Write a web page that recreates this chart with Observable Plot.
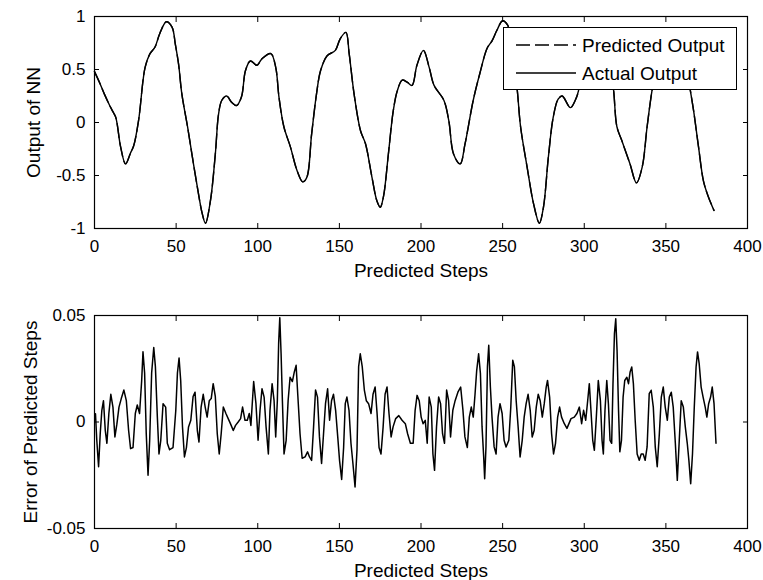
<!DOCTYPE html>
<html><head><meta charset="utf-8">
<script src="https://cdn.jsdelivr.net/npm/d3@7"></script>
<script src="https://cdn.jsdelivr.net/npm/@observablehq/plot@0.6"></script>
<style>
body{margin:0;background:#fff;}
#wrap{position:relative;width:763px;height:580px;background:#fff;font-family:"Liberation Sans",Arial,sans-serif;}
#top,#bottom{position:absolute;left:0;}
#top{top:0;}
#bottom{top:270px;}
#legend{position:absolute;left:503px;top:27px;width:234px;height:63px;background:#fff;border:1px solid #000;box-sizing:border-box;}
#legend svg{display:block;font-family:"Liberation Sans",Arial,sans-serif;}
</style>
</head><body>
<div id="wrap"><div id="top"></div><div id="bottom"></div><div id="legend"></div></div>
<script>
// ---- data ----
const steps = [0,3,6,9,11,13,16,19,22,24,27,31,34,37,40,44,47.5,49.5,51.5,53.5,57,60,63,66,68,71,74,76,78,81,84,87,90,92.5,95.5,99.5,102.5,108,111,113,116,120,124,127.5,130,133,136,138.5,142.5,147.5,150.5,154,156,159,163,166,170,173,175,177,180,183,185.5,188.5,191.5,194.5,197.5,201.5,205,208,214,217,220,224,227,232,236,240.5,243.5,246.5,250,253,255,257,259,261,265,269,272.5,275,278,281,284,286.5,291.5,294.5,296.5,298,301,305,308,313,316,318,320,323,328,332,335.5,338.5,341.5,344,347,352,355,358,361,365,367,370,373,376,379.5];
const output = [0.48,0.38,0.27,0.17,0.11,0.05,-0.23,-0.39,-0.29,-0.22,0.02,0.52,0.65,0.71,0.84,0.95,0.90,0.74,0.55,0.27,-0.04,-0.33,-0.61,-0.86,-0.95,-0.74,-0.30,0.08,0.21,0.25,0.19,0.16,0.24,0.49,0.58,0.54,0.60,0.65,0.52,0.24,-0.04,-0.23,-0.45,-0.56,-0.52,-0.11,0.27,0.49,0.63,0.68,0.79,0.85,0.65,0.27,-0.08,-0.20,-0.52,-0.74,-0.80,-0.70,-0.30,0.11,0.30,0.40,0.38,0.35,0.54,0.68,0.52,0.35,0.21,0.02,-0.30,-0.39,-0.20,0.21,0.46,0.70,0.77,0.87,0.96,0.92,0.80,0.55,0.30,-0.04,-0.42,-0.77,-0.95,-0.80,-0.33,0.05,0.22,0.25,0.14,0.21,0.30,0.50,0.58,0.54,0.60,0.65,0.52,0.30,-0.04,-0.17,-0.39,-0.57,-0.42,-0.04,0.30,0.50,0.63,0.68,0.79,0.85,0.65,0.30,0.11,-0.23,-0.55,-0.70,-0.83];

const errSteps = [0.6,1.4,2.5,3.5,4.5,5.5,6.6,7.6,8.8,10,11.3,12.5,13.7,15,16.4,18,19.5,20.9,22.1,23.6,25,26.2,27.6,28.9,29.7,30.7,31.7,32.8,33.8,35,36.3,37.3,38.5,39.5,40.6,42,43.6,44.6,46,48.1,49.8,50.8,51.8,52.8,53.9,55.1,56.3,57.6,59,60.4,61.6,63,64,65.3,66.6,67.8,69,70.3,71.5,72.7,74,75.2,76.4,77.6,78.9,80.5,81.9,83.4,85,86.4,88,89.5,90.7,92.2,93.6,94.8,95.8,97.5,98.9,100.2,101.4,102.6,103.9,105.1,106.5,107.5,108.8,110,111,112,112.8,113.5,114.3,115.1,116.1,117.4,118.6,119.8,121.2,122.4,123.5,124.5,125.9,127.2,129,130.5,131.7,133,134.2,135.4,136.6,137.8,139.1,140.3,141.5,142.8,144,145.2,146.4,147.7,149,150.1,151.4,152.6,153.6,154.6,155.9,157.1,158.3,159.6,160.8,161.8,162.8,164,165.3,166.5,167.9,169.4,170.6,171.9,173.1,174.3,175.5,176.8,178,179.2,180.4,181.7,182.9,184.5,186.4,188.4,190.4,191.8,193.5,195.2,196.4,197.6,198.9,200.1,201.3,202.6,203.8,205,206.3,207.3,208.3,209.5,210.8,212,213.2,214.4,215.7,216.9,218.1,219.5,220.9,222.6,224.3,225.7,226.9,228.4,229.6,230.8,232,233.1,234.1,235.3,236.4,237.4,238.4,239,239.8,240.7,241.5,242.5,243.5,244.8,246,247.2,248.4,249.7,250.9,252.1,253.8,255,256.2,257.2,258.3,259.5,260.7,262,263.2,264.4,265.6,266.9,268.1,269.3,270.6,271.8,273,274.3,275.5,276.7,277.5,278.8,280,281.2,282.4,283.7,284.9,286.1,287.8,289.4,291.9,293.9,295.5,297,298.4,299.6,300.9,302.1,303.1,304.1,305.2,306.2,307.4,308.6,309.9,310.9,311.7,312.7,313.8,314.8,315.8,316.8,317.6,318.5,319.3,320.1,321,321.8,322.8,323.8,324.8,326.1,327.1,328.1,329.1,330.1,331.2,332.4,333.7,334.9,336.1,337.3,338.5,339.8,341,342.3,343.5,344.7,346,347.2,348.4,349.6,350.9,352.1,353.3,354.5,355.8,357,358.2,359.4,360.7,361.9,363.1,364.1,365.2,366.3,367.4,368.5,369.4,370.4,371.6,372.8,374.1,375.1,376.2,377.4,378.4,379.5,380.7];
const errValues = [0.0039,-0.0086,-0.021,-0.0055,0.0055,0.010,-0.004,-0.010,0.004,0.013,0.007,-0.007,-0.001,0.007,0.011,0.015,0.010,-0.004,-0.0125,-0.012,0.004,0.008,0.004,0.0195,0.033,0.023,-0.0055,-0.025,-0.0086,0.023,0.035,0.026,0.0023,-0.015,-0.0086,0.0086,0.007,-0.010,-0.013,-0.012,0.0055,0.023,0.030,0.0195,-0.0023,-0.0164,-0.012,-0.0023,0.0008,0.012,0.014,-0.004,-0.0094,0.007,0.013,0.007,0.0023,0.010,0.011,0.018,0.012,-0.0055,-0.015,-0.0055,0.007,0.004,0.0016,-0.001,-0.004,-0.0016,0.000,0.0016,0.007,0.0008,0.0008,0.004,-0.0016,0.019,0.0086,-0.0086,0.0055,0.0156,0.0117,-0.0023,-0.015,0.0055,0.018,0.010,-0.007,0.010,0.037,0.049,0.032,0.010,-0.015,-0.0086,0.010,0.021,0.019,0.0235,0.0266,0.013,-0.0055,-0.017,-0.0164,-0.014,-0.0164,-0.018,-0.0023,0.015,0.0117,-0.007,-0.0195,-0.0055,0.0086,0.0156,0.0008,0.010,0.013,0.0055,-0.007,-0.018,-0.027,-0.012,0.0086,0.0117,0.0055,-0.010,-0.0195,-0.0305,-0.013,0.026,0.032,0.026,0.015,0.010,0.0086,0.004,0.013,0.0164,0.004,-0.012,-0.015,-0.0023,0.013,0.0164,0.004,-0.007,-0.0023,0.0016,0.003,0.0008,-0.0008,-0.0055,-0.010,-0.010,0.0055,0.0125,0.010,0.0023,-0.0008,0.0008,-0.010,0.0117,0.007,-0.015,-0.0227,-0.0023,0.0117,0.0086,-0.0055,-0.010,0.015,0.010,-0.007,0.0055,0.010,0.014,0.0164,0.0055,-0.007,-0.012,0.0023,0.007,0.0023,0.013,0.024,0.032,0.0227,-0.0023,-0.0164,-0.0266,-0.0117,0.026,0.036,0.0164,0.0023,-0.0117,-0.015,0.0023,0.0086,0.004,-0.0086,-0.0117,-0.0086,0.007,0.029,0.026,0.010,-0.0023,-0.0164,-0.0086,0.0023,0.0086,0.013,0.0055,-0.007,-0.004,0.007,0.013,0.010,0.0023,0.0086,0.0164,0.0195,0.0117,-0.0055,-0.015,-0.010,0.0023,0.007,0.0023,-0.0008,-0.003,0.0016,0.0023,0.004,0.007,-0.0008,0.0055,0.0008,0.010,0.018,0.0055,-0.0086,-0.0133,0.0023,0.0195,0.010,-0.0086,-0.015,0.0055,0.0195,0.0086,-0.0086,-0.010,0.018,0.0415,0.0485,0.0336,0.0055,-0.014,-0.0086,0.0117,0.0195,0.021,0.018,0.0235,0.0258,0.018,0.0008,-0.015,-0.018,-0.015,-0.015,-0.018,-0.0117,0.0133,0.0149,0.007,-0.0117,-0.021,-0.0055,0.0117,0.0164,0.007,0.0008,0.0117,0.014,0.007,-0.010,-0.0274,-0.0086,0.010,0.007,-0.0023,-0.010,-0.018,-0.029,-0.015,0.007,0.0258,0.0329,0.0274,0.0164,0.0117,0.007,0.0023,0.0086,0.0117,0.0164,0.0086,-0.010];

const xTicks = [0,50,100,150,200,250,300,350,400];
const outTicks = [-1,-0.5,0,0.5,1];
const errTicks = [-0.05,0,0.05];
const xLabel = "Predicted Steps";
const outLabel = "Output of NN";
const errLabel = "Error of Predicted Steps";
const seriesNames = ["Predicted Output","Actual Output"];
const seriesDash = ["14,5", null];

// ---- tables ----
const outData = steps.map((s,i)=>({step:s, value:output[i]}));
const errData = errSteps.map((s,i)=>({step:s, value:errValues[i]}));

const font = '"Liberation Sans", Arial, sans-serif';
function boxAxes(yTicks, yLabel, yLabelDx) {
  return [
    Plot.frame({stroke:"#000", strokeWidth:1.2}),
    Plot.axisX(xTicks,{anchor:"bottom", tickSize:5, dy:-5, tickFormat:()=>"", label:null}),
    Plot.axisX(xTicks,{anchor:"top", tickSize:5, dy:5, tickFormat:()=>"", label:null}),
    Plot.axisY(yTicks,{anchor:"left", tickSize:5, dx:5, tickFormat:()=>"", label:null}),
    Plot.axisY(yTicks,{anchor:"right", tickSize:5, dx:-5, tickFormat:()=>"", label:null}),
    Plot.axisX(xTicks,{anchor:"bottom", tickSize:0, tickPadding:11, tickFormat:d=>String(d), label:null, fontSize:17}),
    Plot.axisY(yTicks,{anchor:"left", tickSize:0, tickPadding:9, tickFormat:d=>String(d), label:null, fontSize:17}),
    Plot.text([xLabel],{text:d=>d, frameAnchor:"bottom", dy:42, fontSize:19, lineAnchor:"middle", textAnchor:"middle"}),
    Plot.text([yLabel],{text:d=>d, frameAnchor:"left", dx:yLabelDx, rotate:-90, fontSize:19, lineAnchor:"middle", textAnchor:"middle"})
  ];
}

const topChart = Plot.plot({
  width:763, height:290, marginLeft:94, marginRight:16, marginTop:16, marginBottom:62,
  style:{background:"transparent", fontFamily:font, fontSize:"17px", color:"#000", overflow:"visible"},
  x:{domain:[0,400]}, y:{domain:[-1,1]},
  marks:[
    Plot.line(outData,{x:"step", y:"value", stroke:"#000", strokeWidth:1.4, curve:"catmull-rom"}),
    Plot.line(outData,{x:"step", y:"value", stroke:"#000", strokeWidth:1.4, curve:"catmull-rom", strokeDasharray:seriesDash[0]}),
    ...boxAxes(outTicks, outLabel, -61)
  ]
});
document.getElementById("top").appendChild(topChart);

const bottomChart = Plot.plot({
  width:763, height:310, marginLeft:94, marginRight:16, marginTop:45, marginBottom:52,
  style:{background:"transparent", fontFamily:font, fontSize:"17px", color:"#000", overflow:"visible"},
  x:{domain:[0,400]}, y:{domain:[-0.05,0.05]},
  marks:[
    Plot.line(errData,{x:"step", y:"value", stroke:"#000", strokeWidth:1.5}),
    ...boxAxes(errTicks, errLabel, -64)
  ]
});
document.getElementById("bottom").appendChild(bottomChart);

// legend
const lg = d3.select("#legend").append("svg").attr("width",232).attr("height",61);
seriesNames.forEach((name,i)=>{
  const y = 17 + i*28;
  lg.append("line").attr("x1",12).attr("x2",72).attr("y1",y).attr("y2",y)
    .attr("stroke","#000").attr("stroke-width",1.3).attr("stroke-dasharray",seriesDash[i]);
  lg.append("text").attr("x",78).attr("y",y).attr("dy","0.35em").attr("font-size",19).text(name);
});
</script>
</body></html>
